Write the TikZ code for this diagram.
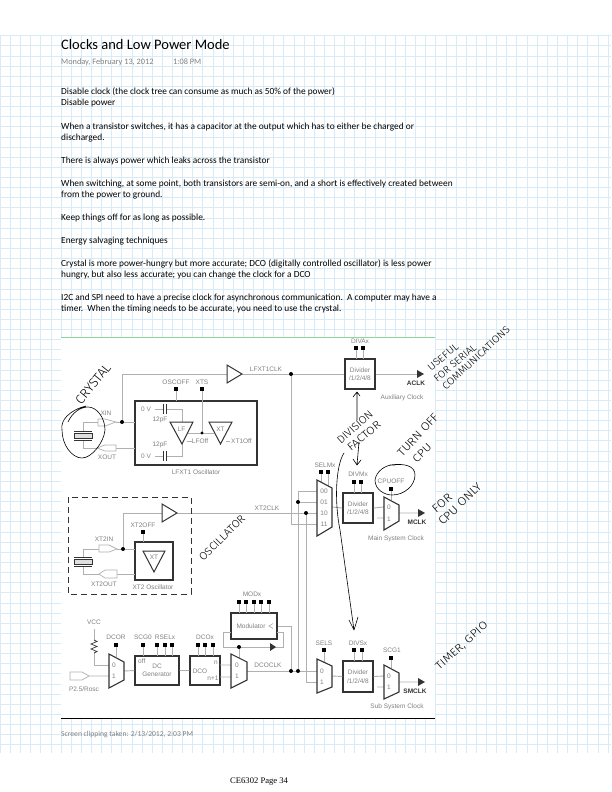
\documentclass[tikz,border=0pt]{standalone}
\usepackage{fontspec}
\setmainfont{Carlito}
\setsansfont{Liberation Sans}
\newfontfamily\handf{Fira Sans Light}
\newfontfamily\pagef{Liberation Serif}
\definecolor{gridc}{HTML}{D8EBF7}
\definecolor{wire}{HTML}{B0B0B0}
\definecolor{lab}{HTML}{808080}
\definecolor{bx}{HTML}{333333}
\tikzset{
 wr/.style={draw=wire,line width=.9pt},
 blk/.style={draw=bx,line width=1.3pt,fill=white,inner sep=0pt,align=center,text=lab,font=\sffamily\fontsize{6.5}{8.5}\selectfont},
 mx/.style={draw=bx,line width=1.1pt,fill=white},
 tri/.style={draw=bx,line width=1pt,fill=white},
 lbl/.style={font=\sffamily\fontsize{6.5}{8}\selectfont,text=lab,inner sep=0pt,align=center},
 boldlbl/.style={font=\sffamily\bfseries\fontsize{6.5}{8}\selectfont,text=bx,inner sep=0pt},
 body/.style={font=\fontsize{9.35}{11.5}\selectfont,anchor=west,inner sep=0pt,text=black},
 ink/.style={draw=black,line width=.6pt,line cap=round,line join=round},
 hand/.style={inner sep=0pt,text=black},
 dot/.style={circle,fill=black,inner sep=0pt,minimum size=4pt},
 pin/.style={rectangle,fill=black,inner sep=0pt,minimum size=3.4pt},
 pad/.style={draw=wire,line width=.7pt,fill=white}
}
\newcommand{\hnd}[3]{\resizebox{#1pt}{#2pt}{\handf #3}}
\begin{document}
\begin{tikzpicture}[x=1pt,y=-1pt]
\useasboundingbox (0,0) rectangle (611,792);
\fill[white] (0,0) rectangle (611,792);
% grid
\foreach \i in {0,...,60} \draw[gridc,line width=.9pt] (0.3+\i*10.13,35.7) -- (0.3+\i*10.13,753);
\foreach \i in {0,...,70} \draw[gridc,line width=.9pt] (0,35.7+\i*10.13) -- (611,35.7+\i*10.13);
% text
\node[body,font=\fontsize{14.5}{16}\selectfont] (title) at (61,45) {Clocks and Low Power Mode};
\node[body,font=\fontsize{8.3}{10}\selectfont,text=lab] (date) at (61,62) {Monday, February 13, 2012};
\node[body,font=\fontsize{8.3}{10}\selectfont,text=lab] (time) at (173,62) {1:08 PM};
\node[body] (t1) at (61,92) {Disable clock (the clock tree can consume as much as 50\% of the power)};
\node[body] (t2) at (61,103) {Disable power};
\node[body] (t3) at (61,127) {When a transistor switches, it has a capacitor at the output which has to either be charged or};
\node[body] (t4) at (61,138) {discharged.};
\node[body] (t5) at (61,161) {There is always power which leaks across the transistor};
\node[body] (t6) at (61,184) {When switching, at some point, both transistors are semi-on, and a short is effectively created between};
\node[body] (t7) at (61,195) {from the power to ground.};
\node[body] (t8) at (61,218) {Keep things off for as long as possible.};
\node[body] (t9) at (61,241) {Energy salvaging techniques};
\node[body] (t10) at (61,264) {Crystal is more power-hungry but more accurate; DCO (digitally controlled oscillator) is less power};
\node[body] (t11) at (61,275) {hungry, but also less accurate; you can change the clock for a DCO};
\node[body] (t12) at (61,298) {I2C and SPI need to have a precise clock for asynchronous communication.\ \ A computer may have a};
\node[body] (t13) at (61,309) {timer.\ \ When the timing needs to be accurate, you need to use the crystal.};
\node[body,font=\fontsize{7.6}{9}\selectfont,text=lab] (clip) at (61,735) {Screen clipping taken: 2/13/2012, 2:03 PM};
\node[anchor=west,inner sep=0pt,font=\pagef\fontsize{8.6}{10}\selectfont] (pg) at (230,782) {CE6302 Page 34};
% screenshot
\fill[white] (61,337) rectangle (435,718);
\draw[draw=green!30!gridc!90!black,line width=.6pt] (61,337) -- (435,337);
\draw[black,line width=1pt] (61,718) -- (435,718);
% ---- nodes (blocks)
\node[blk,minimum width=30pt,minimum height=30pt] (diva) at (360,374) {Divider\\/1/2/4/8};
\node[blk,minimum width=30pt,minimum height=30pt] (divm) at (358,508) {Divider\\/1/2/4/8};
\node[blk,minimum width=30pt,minimum height=31pt] (divs) at (358,676.5) {Divider\\/1/2/4/8};
\node[blk,minimum width=122pt,minimum height=64pt] (lfxt) at (196,433) {};
\node[blk,minimum width=38pt,minimum height=38pt] (xtb) at (154,561) {};
\node[blk,minimum width=44pt,minimum height=29pt] (dcg) at (157,670.5) {DC\\Generator};
\node[blk,minimum width=30pt,minimum height=29pt] (dcob) at (205,670.5) {};
\node[blk,minimum width=46pt,minimum height=26pt] (modu) at (254,626) {};
\node[lbl] (lmodu) at (251,626) {Modulator};
% ---- wires
\coordinate (j1) at (122,422); \coordinate (j2) at (291,374); \coordinate (j3) at (123,549);
\coordinate (j4) at (298,502); \coordinate (j5) at (306,513); \coordinate (j6) at (291,671); \coordinate (j7) at (298,671);
\draw[wr] (j1) -- (122,374) -- (227,374) (242,374) -- (diva.west);
\draw[wr] (j1) -- (135,422) (116,422) -- (j1);
\draw[wr] (98,422) -- (83,422) -- (83,432) (83,440) -- (83,448) -- (97,448) (116,448) -- (135,448);
\draw[wr] (diva.east) -- (418,374);
\draw[wr] (j2) -- (291,524) -- (317,524);
\draw[wr] (298,491) -- (317,491) (298,491) -- (j7);
\draw[wr] (j4) -- (317,502);
\draw[wr] (177,513) -- (317,513);
\draw[wr] (j5) -- (306,682) -- (317,682);
\draw[wr] (332,507) -- (divm.west) (divm.east) -- (384,507) (377,518) -- (384,518) (399,513) -- (419,513);
\draw[wr] (332,676) -- (divs.west) (divs.east) -- (384,676) (377,687) -- (384,687) (399,682) -- (419,682);
\draw[wr] (j3) -- (123,513) -- (162,513) (j3) -- (135,549);
\draw[wr] (117,549) -- (j3) (99,549) -- (83,549) -- (83,557) (83,566) -- (83,574) -- (99,574) (117,574) -- (135,574);
\draw[wr] (94,629) -- (94,640) (94,653) -- (94,665) -- (109,665);
\draw[wr] (89,676) -- (109,676) (124,671) -- (dcg.west) (dcg.east) -- (dcob.west) (220,665) -- (232,665) (220,677) -- (232,677);
\draw[wr] (247,671) -- (317,671);
\draw[wr] (modu.east |- 0,626) -- (291,626) -- (j6);
\draw[wr] (277,632) -- (283,632) -- (283,647) -- (223,647) -- (223,632) -- (231,632);
\draw[wr] (239,647) -- (239,658);
% pins and their wires
\foreach \x/\yp/\yq in {356/348/359,363/348/359,321/472/484,328/472/487,354/482/493,361/482/493,391/489/500,324/650/663,354/650/661,362/650/661,391/658/668,143/532/542,116/645/657,143/645/656,157/645/656,165/645/656,172/645/656,198/645/656,205/645/656,213/645/656,239/602/613,246/602/613,254/602/613,261/602/613,269/602/613,176/389/401,202/389/433}
 {\draw[wr] (\x,\yp) -- (\x,\yq);}
% LFXT innards
\draw[wr] (155,409) -- (163,409) (166,409) -- (182,409) -- (182,422);
\draw[wr] (155,456) -- (163,456) (166,456) -- (182,456) -- (182,444);
\draw[bx,line width=.8pt] (163,404)--(163,414) (166,404)--(166,414) (163,451)--(163,461) (166,451)--(166,461);
\draw[wr] (188,433) -- (214,433) (187,441) -- (192,441) (226,441) -- (230,441);
\draw[wr] (202,401) -- (202,433);
\draw[tri] (170,422)--(193,422)--(182,444)--cycle;
\draw[tri] (209,422)--(232,422)--(220.5,444)--cycle;
\node[lbl] (llf) at (181.5,429) {LF};
\node[lbl] (lxt) at (220.5,429) {XT};
\node[lbl] (zv1) at (146,409) {0 V}; \node[lbl] (zv2) at (146,456) {0 V};
\node[lbl] (pf1) at (160,420) {12pF}; \node[lbl] (pf2) at (160,445) {12pF};
\node[lbl] (lfoff) at (200,441) {LFOff};
\node[lbl,anchor=west] (xtoff) at (231,441) {XT1Off};
\node[lbl] (lfosc) at (196,472) {LFXT1 Oscillator};
\node[lbl] (osc) at (176,382) {OSCOFF}; \node[lbl] (xts) at (202,382) {XTS};
\node[pin] (p1) at (176,389) {}; \node[pin] (p2) at (202,389) {};
\node[dot,minimum size=3.4pt] (d1) at (202,433) {};
\node[dot] (d0) at (j1) {};
\draw[tri] (227,365)--(242,374)--(227,383)--cycle;
\node[lbl] (lclk) at (266,369) {LFXT1CLK};
\node[dot] (d2) at (j2) {};
% XIN / XOUT pads, crystal
\draw[pad] (98,419)--(105,419)--(116,422)--(105,426)--(98,426)--cycle;
\draw[pad] (116,445)--(105,445)--(97,448)--(105,451)--(116,451)--cycle;
\node[lbl] (lxin) at (106,413) {XIN}; \node[lbl] (lxout) at (107,457) {XOUT};
\draw[bx,line width=1pt,fill=wire!40] (74,433.5) rectangle (92,438.5);
\draw[bx,line width=.8pt] (74,431.5)--(92,431.5) (74,440.5)--(92,440.5);
% divider A labels
\node[lbl] (ldiva) at (360,341) {DIVAx};
\node[pin] (pa1) at (356,348) {}; \node[pin] (pa2) at (363,348) {};
\fill[bx] (417,370)--(424,374)--(417,378)--cycle;
\node[boldlbl] (aclk) at (416,383) {ACLK};
\node[lbl] (laux) at (402,398) {Auxiliary Clock};
% SELM mux
\draw[mx] (317,480) -- (332,488) -- (332,527) -- (317,536) -- cycle;
\node[lbl] (m00) at (324,491) {00}; \node[lbl] (m01) at (324,502) {01}; \node[lbl] (m10) at (324,513) {10}; \node[lbl] (m11) at (324,524) {11};
\node[lbl] (lselm) at (325,465) {SELMx};
\node[pin] (pm1) at (321,472) {}; \node[pin] (pm2) at (328,472) {};
\node[lbl] (ldivm) at (358,474) {DIVMx};
\node[pin] (pm3) at (354,482) {}; \node[pin] (pm4) at (361,482) {};
\draw[mx] (384,497) -- (399,505) -- (399,521) -- (384,530) -- cycle;
\node[lbl] (c0) at (389,507) {0}; \node[lbl] (c1) at (389,519) {1};
\node[lbl] (lcpu) at (391,481) {CPUOFF};
\node[pin] (pc) at (391,489) {};
\fill[bx] (418,509)--(425,513)--(418,517)--cycle;
\node[boldlbl] (mclk) at (417,522) {MCLK};
\node[lbl] (lmain) at (396,539) {Main System Clock};
\node[lbl] (lxt2) at (267,508) {XT2CLK};
\node[dot] (d3) at (j4) {}; \node[dot] (d4) at (j5) {};
% XT2 dashed
\draw[bx,line width=.9pt,dash pattern=on 6pt off 4pt] (68,497) rectangle (191,594);
\draw[tri] (162,504)--(177,513)--(162,522)--cycle;
\node[lbl] (lxoff) at (143,525) {XT2OFF};
\node[pin] (px) at (143,532) {};
\draw[tri] (143,551)--(165,551)--(154,572)--cycle;
\node[lbl] (lxt3) at (154,557) {XT};
\node[lbl] (lxosc) at (153,587) {XT2 Oscillator};
\draw[pad] (99,545)--(109,545)--(117,549)--(109,552)--(99,552)--cycle;
\draw[pad] (117,570)--(105,570)--(99,574)--(105,578)--(117,578)--cycle;
\node[lbl] (lxin2) at (104,539) {XT2IN}; \node[lbl] (lxout2) at (104,584) {XT2OUT};
\node[dot] (d5) at (j3) {};
\draw[bx,line width=1pt,fill=wire!40] (74,559) rectangle (92,564);
\draw[bx,line width=.8pt] (74,557)--(92,557) (74,566)--(92,566);
% DCO row
\node[lbl] (vcc) at (94,622) {VCC};
\draw[bx,line width=.7pt] (94,640)--(97,641.5)--(91,644)--(97,646.5)--(91,649)--(97,651.5)--(94,653);
\draw[mx] (109,654) -- (124,662) -- (124,680) -- (109,688) -- cycle;
\node[lbl] (r0) at (114,665) {0}; \node[lbl] (r1) at (114,676) {1};
\node[lbl] (ldcor) at (116,637) {DCOR}; \node[pin] (pr) at (116,645) {};
\node[lbl,anchor=west] (loff) at (138,661) {off};
\node[lbl] (lscg) at (143,637) {SCG0}; \node[lbl] (lrsel) at (165,637) {RSELx};
\node[pin] (ps0) at (143,645) {}; \node[pin] (ps1) at (157,645) {}; \node[pin] (ps2) at (165,645) {}; \node[pin] (ps3) at (172,645) {};
\node[lbl] (ldco) at (200,671) {DCO};
\node[lbl] (ln) at (216,663) {n}; \node[lbl] (ln1) at (213,678) {n+1};
\node[lbl] (ldcox) at (205,637) {DCOx};
\node[pin] (pd1) at (198,645) {}; \node[pin] (pd2) at (205,645) {}; \node[pin] (pd3) at (213,645) {};
\draw[mx] (231,654) -- (247,662) -- (247,680) -- (231,688) -- cycle;
\node[lbl] (q0) at (237,665) {0}; \node[lbl] (q1) at (237,676) {1};
\draw[pad] (70,672)--(82,672)--(89,676)--(82,680)--(70,680)--cycle;
\node[lbl] (lp25) at (84,689) {P2.5/Rosc};
\node[dot] (d6) at (239,647) {};
\fill[bx] (270,643)--(276,647)--(270,651)--cycle;
\draw[wire,line width=.7pt] (273,623.5)--(269,626)--(273,628.5);
\node[lbl] (lmod) at (252,594) {MODx};
\foreach \x in {239,246,254,261,269}{\node[pin] at (\x,602) {};}
\node[lbl] (ldclk) at (268,665) {DCOCLK};
\node[dot] (d7) at (j6) {}; \node[dot] (d8) at (j7) {};
% SELS
\draw[mx] (317,659) -- (332,666) -- (332,687) -- (317,693) -- cycle;
\node[lbl] (s0) at (322,671) {0}; \node[lbl] (s1) at (322,682) {1};
\node[lbl] (lsels) at (324,643) {SELS}; \node[pin] (pss) at (324,650) {};
\node[lbl] (ldivs) at (358,643) {DIVSx};
\node[pin] (ps4) at (354,650) {}; \node[pin] (ps5) at (362,650) {};
\draw[mx] (384,665) -- (399,673) -- (399,692) -- (384,699) -- cycle;
\node[lbl] (g0) at (389,676) {0}; \node[lbl] (g1) at (389,687) {1};
\node[lbl] (lscg1) at (392,650) {SCG1}; \node[pin] (ps6) at (391,658) {};
\fill[bx] (418,678)--(425,682)--(418,686)--cycle;
\node[boldlbl] (smclk) at (415,691) {SMCLK};
\node[lbl] (lsub) at (397,707) {Sub System Clock};
% handwriting
\node[hand,rotate=51] (h1) at (93,384) {\hnd{48}{9}{CRYSTAL}};
\draw[ink] (86,406) .. controls (70,410) and (60,420) .. (62,430) .. controls (62,445) and (72,458) .. (82,458) .. controls (92,458) and (104,442) .. (105,430) .. controls (105,418) and (97,407) .. (88,407) .. controls (80,407) and (72,413) .. (68,422);
\node[hand,rotate=45] (h2) at (222,538) {\hnd{60}{7.5}{OSCILLATOR}};
\node[hand,rotate=40] (h3) at (443,357) {\hnd{37}{7}{USEFUL}};
\node[hand,rotate=40] (h4) at (455,363) {\hnd{52}{7}{FOR SERIAL}};
\node[hand,rotate=43] (h5) at (476,358) {\hnd{88}{7}{COMMUNICATIONS}};
\node[hand,rotate=42] (h6) at (355,427) {\hnd{44}{7.5}{DIVISION}};
\node[hand,rotate=40] (h7) at (364,436) {\hnd{40}{7.5}{FACTOR}};
\node[hand,rotate=47] (h8) at (418,435) {\hnd{54}{8}{TURN OFF}};
\node[hand,rotate=45] (h9) at (422,453) {\hnd{22}{7.5}{CPU}};
\node[hand,rotate=40] (h10) at (442,503) {\hnd{22}{8}{FOR}};
\node[hand,rotate=44] (h11) at (460,504) {\hnd{55}{8}{CPU ONLY}};
\node[hand,rotate=42] (h12) at (462,646) {\hnd{66}{7.5}{TIMER, GPIO}};
\draw[ink] (395,465) .. controls (385,464) and (376,472) .. (375,480) .. controls (375,490) and (385,495) .. (392,495) .. controls (405,495) and (415,485) .. (415,475) .. controls (415,466) and (405,463) .. (390,465);
\draw[ink] (357,392) -- (357,420) (353,397) -- (357,392) -- (360,396);
\draw[ink] (359,442) -- (357,465) (353,459) -- (357,465) -- (361,460);
\draw[ink] (344,453) .. controls (336,465) and (334,500) .. (340,530) -- (354,630) (349,620) -- (354,630) -- (358,617);
\end{tikzpicture}
\end{document}
